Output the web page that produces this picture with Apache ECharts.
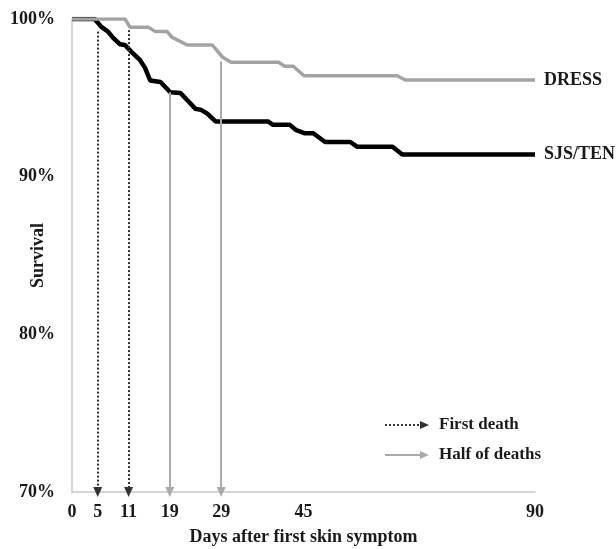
<!DOCTYPE html>
<html>
<head>
<meta charset="utf-8">
<script src="https://cdn.jsdelivr.net/npm/echarts@6/dist/echarts.min.js"></script>
<style>
  html, body { margin: 0; padding: 0; background: #fff; }
  #chart { width: 616px; height: 549px; }
</style>
</head>
<body>
<div id="chart"></div>
<script>
// days after first skin symptom / survival (%)
var sjsDays = [0, 4.4, 5.7, 7.0, 8.0, 9.3, 10.3, 11.6, 13.2, 14.2, 15.2, 17.2, 19.1, 21.1, 22.7, 24.0, 25.0, 26.3, 27.9, 38.1, 39.0, 42.3, 43.6, 45.3, 46.9, 49.2, 54.1, 55.4, 62.3, 64.2, 90];
var sjsSurv = [100, 100, 99.5, 99.2, 98.8, 98.4, 98.35, 97.9, 97.4, 96.9, 96.1, 96.0, 95.35, 95.3, 94.75, 94.3, 94.25, 94.0, 93.5, 93.5, 93.3, 93.3, 92.95, 92.75, 92.75, 92.2, 92.2, 91.9, 91.9, 91.4, 91.4];

var dressDays = [0, 10.3, 11.3, 14.9, 16.2, 18.5, 19.4, 22.4, 27.3, 29.3, 30.9, 40.2, 41.3, 43.0, 45.1, 63.2, 64.8, 90];
var dressSurv = [100, 100, 99.47, 99.47, 99.2, 99.2, 98.85, 98.35, 98.35, 97.57, 97.25, 97.25, 97.0, 97.0, 96.4, 96.4, 96.13, 96.13];

var xTicks = [0, 5, 11, 19, 29, 45, 90];

// arrows: day, survival where the arrow starts
var firstDeathDays = [5, 11];
var firstDeathFrom = [99.2, 99.3];
var halfDeathDays = [19, 29];
var halfDeathFrom = [95.35, 97.3];

var font = 'Liberation Serif';
var txt = '#1a1a1a';

function pairs(a, b) {
    var res = [];
    for (var i = 0; i < a.length; i++) res.push([a[i], b[i]]);
    return res;
}

var arrows = [];
for (var i = 0; i < firstDeathDays.length; i++) {
    arrows.push([
        { coord: [firstDeathDays[i], firstDeathFrom[i]], lineStyle: { color: '#333', width: 2, type: [2, 2] }, itemStyle: { color: '#333' } },
        { coord: [firstDeathDays[i], 70] }
    ]);
}
for (var i = 0; i < halfDeathDays.length; i++) {
    arrows.push([
        { coord: [halfDeathDays[i], halfDeathFrom[i]], lineStyle: { color: '#ababab', width: 2, type: 'solid' }, itemStyle: { color: '#ababab' } },
        { coord: [halfDeathDays[i], 70] }
    ]);
}

var chart = echarts.init(document.getElementById('chart'));
var option = {
    animation: false,
    grid: { left: 72, right: 81, top: 19, bottom: 57, containLabel: false, outerBoundsMode: 'none' },
    xAxis: {
        type: 'value', min: 0, max: 90,
        name: 'Days after first skin symptom', nameLocation: 'middle', nameGap: 36,
        nameMoveOverlap: false,
        nameTextStyle: { fontFamily: font, fontWeight: 'bold', fontSize: 18, color: txt },
        axisLine: { lineStyle: { color: '#c8c8c8', width: 1.5 } },
        axisTick: { show: false },
        splitLine: { show: false },
        axisLabel: { customValues: xTicks, margin: 11, fontFamily: font, fontWeight: 'bold', fontSize: 18, color: txt }
    },
    yAxis: {
        type: 'value', min: 70, max: 100, interval: 10,
        name: 'Survival', nameLocation: 'middle', nameGap: 25, nameRotate: 90,
        nameMoveOverlap: false,
        nameTextStyle: { fontFamily: font, fontWeight: 'bold', fontSize: 18, color: txt, padding: [0, 0, 0, 0] },
        axisLine: { show: true, lineStyle: { color: '#c8c8c8', width: 1.5 } },
        axisTick: { show: false },
        splitLine: { show: false },
        axisLabel: { formatter: '{value}%', margin: 17, fontFamily: font, fontWeight: 'bold', fontSize: 18, color: txt }
    },
    series: [
        {
            name: 'SJS/TEN', type: 'line', data: pairs(sjsDays, sjsSurv),
            symbol: 'none', silent: true,
            lineStyle: { color: '#000', width: 4.5 },
            endLabel: { show: true, formatter: '{a}', distance: 9, fontFamily: font, fontWeight: 'bold', fontSize: 18, color: txt },
            markLine: {
                silent: true, symbol: ['none', 'triangle'], symbolSize: [9, 10],
                label: { show: false }, data: arrows
            }
        },
        {
            name: 'DRESS', type: 'line', data: pairs(dressDays, dressSurv),
            symbol: 'none', silent: true,
            lineStyle: { color: '#a3a3a3', width: 3.5 },
            endLabel: { show: true, formatter: '{a}', distance: 9, fontFamily: font, fontWeight: 'bold', fontSize: 18, color: txt }
        }
    ],
    graphic: [
        { type: 'line', shape: { x1: 385, y1: 425, x2: 422, y2: 425 }, style: { stroke: '#333', lineWidth: 2, lineDash: [2, 2] } },
        { type: 'polygon', shape: { points: [[420, 421], [429, 425], [420, 429]] }, style: { fill: '#333' } },
        { type: 'text', left: 439, top: 416, style: { text: 'First death', font: 'bold 17px "Liberation Serif"', fill: txt } },
        { type: 'line', shape: { x1: 385, y1: 455, x2: 422, y2: 455 }, style: { stroke: '#ababab', lineWidth: 2 } },
        { type: 'polygon', shape: { points: [[420, 451], [429, 455], [420, 459]] }, style: { fill: '#ababab' } },
        { type: 'text', left: 439, top: 446, style: { text: 'Half of deaths', font: 'bold 17px "Liberation Serif"', fill: txt } }
    ]
};
chart.setOption(option);
</script>
</body>
</html>
